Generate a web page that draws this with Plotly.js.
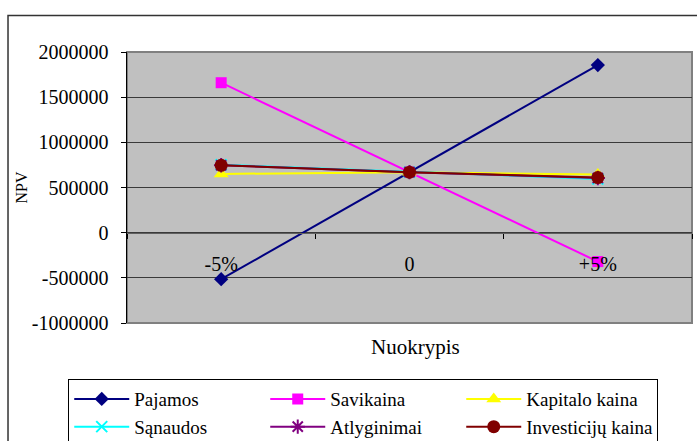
<!DOCTYPE html>
<html>
<head>
<meta charset="utf-8">
<script src="https://cdn.plot.ly/plotly-3.0.1.min.js"></script>
<style>
  html, body { margin: 0; padding: 0; background: #fff; }
  #chart { width: 697px; height: 441px; }
</style>
</head>
<body>
<div id="chart"></div>
<script>
// Categories (deviation) and NPV series
var categories = ['-5%', '0', '+5%'];
var seriesNames = ['Pajamos', 'Savikaina', 'Kapitalo kaina', 'Sąnaudos', 'Atlyginimai', 'Investicijų kaina'];
var pajamos = [-515000, 670000, 1855000];
var savikaina = [1660000, 670000, -320000];
var kapitalo = [650000, 670000, 643000];
var sanaudos = [752000, 670000, 595000];
var atlyginimai = [746000, 670000, 605000];
var investiciju = [745000, 670000, 610000];
var yTicks = [-1000000, -500000, 0, 500000, 1000000, 1500000, 2000000];

var values = [pajamos, savikaina, kapitalo, sanaudos, atlyginimai, investiciju];
var colors = ['#000080', '#FF00FF', '#FFFF00', '#00FFFF', '#800080', '#800000'];
var symbols = ['diamond', 'square', 'triangle-up', 'x-thin-open', 'asterisk-open', 'circle'];
var sizes = [11, 11, 13, 11, 12, 13];

var serif = '"Liberation Serif", "Times New Roman", serif';

var traces = values.map(function (v, i) {
  return {
    x: categories,
    y: v,
    name: seriesNames[i],
    type: 'scatter',
    mode: 'lines+markers',
    line: { color: colors[i], width: 2 },
    marker: {
      symbol: symbols[i],
      size: sizes[i],
      color: colors[i],
      line: { color: colors[i], width: (symbols[i].indexOf('open') >= 0 ? 2 : 0) }
    }
  };
});

var layout = {
  width: 697,
  height: 441,
  margin: { l: 127, r: 5, t: 52, b: 118, autoexpand: false },
  paper_bgcolor: '#ffffff',
  plot_bgcolor: '#C0C0C0',
  font: { family: serif, size: 18, color: '#000' },
  showlegend: true,
  xaxis: {
    type: 'category',
    range: [-0.5, 2.5],
    anchor: 'free',
    position: 1 / 3,
    showline: true,
    linecolor: '#606060',
    linewidth: 1.5,
    showgrid: false,
    zeroline: false,
    ticks: 'outside',
    ticklen: 5,
    tickwidth: 1,
    tickcolor: '#000',
    tickson: 'boundaries',
    ticklabelstandoff: 13,
    tickfont: { family: serif, size: 20, color: '#000' },
    fixedrange: true,
    automargin: false
  },
  yaxis: {
    range: [-1000000, 2000000],
    tickvals: yTicks,
    ticktext: yTicks.map(function (t) { return String(t); }),
    showline: true,
    linecolor: '#000',
    linewidth: 1.5,
    ticks: 'outside',
    ticklen: 5,
    tickcolor: '#000',
    showgrid: true,
    gridcolor: '#3a3a3a',
    gridwidth: 1,
    zeroline: false,
    ticklabelstandoff: 8,
    tickfont: { family: serif, size: 20, color: '#000' },
    title: { text: 'NPV', font: { family: serif, size: 16, color: '#000' }, standoff: 0 },
    fixedrange: true,
    automargin: false
  },
  annotations: [{
    text: 'Nuokrypis',
    xref: 'paper', yref: 'paper',
    x: 0.51, y: -0.09,
    xanchor: 'center', yanchor: 'middle',
    showarrow: false,
    font: { family: serif, size: 21, color: '#000' }
  }],
  legend: {
    orientation: 'h',
    x: -0.104,
    xanchor: 'left',
    y: -0.207,
    yanchor: 'top',
    bgcolor: '#ffffff',
    bordercolor: '#000',
    borderwidth: 1,
    font: { family: serif, size: 19, color: '#000' },
    entrywidth: 126,
    entrywidthmode: 'pixels',
    itemwidth: 55,
    traceorder: 'normal'
  },
  shapes: [
    {
      type: 'rect', xref: 'paper', yref: 'paper', layer: 'below',
      x0: 0, x1: 1, y0: 0, y1: 1,
      line: { color: '#808080', width: 2 }, fillcolor: 'rgba(0,0,0,0)'
    },
    {
      type: 'rect', xref: 'paper', yref: 'paper', layer: 'below',
      x0: -0.2106, x1: 1.2, y0: -0.6, y1: 1.135,
      line: { color: '#333', width: 1.5 }, fillcolor: 'rgba(0,0,0,0)'
    }
  ]
};

Plotly.newPlot('chart', traces, layout, { displayModeBar: false, staticPlot: true });
</script>
</body>
</html>
